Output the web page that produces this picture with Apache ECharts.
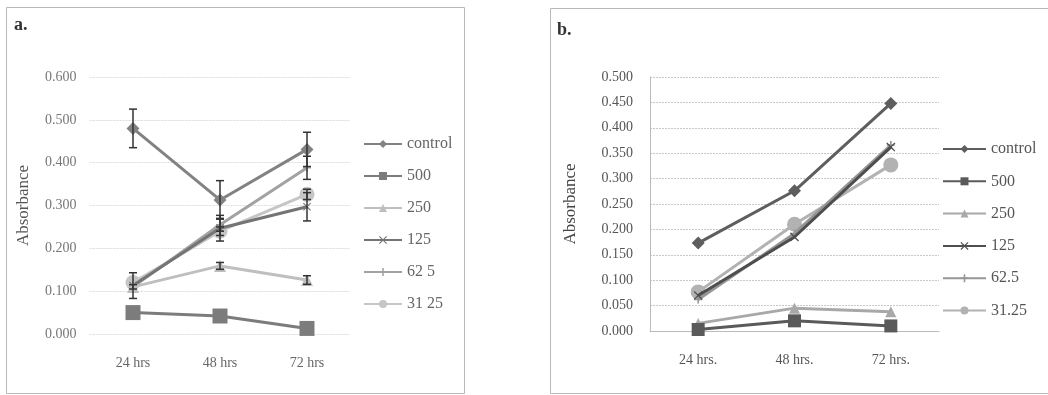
<!DOCTYPE html>
<html>
<head>
<meta charset="utf-8">
<script src="https://cdn.jsdelivr.net/npm/echarts@6/dist/echarts.min.js"></script>
<style>
  body { margin: 0; background: #fff; }
  #chartA { position: absolute; left: 0; top: 0; width: 524px; height: 395px; }
  #chartB { position: absolute; left: 524px; top: 0; width: 524px; height: 395px; }
</style>
</head>
<body>
<div id="chartA"></div>
<div id="chartB"></div>
<script>
// data
var seriesNames = ['control', '500', '250', '125', '62 5', '31 25'];
var seriesNamesB = ['control', '500', '250', '125', '62.5', '31.25'];
var catsA = ['24 hrs', '48 hrs', '72 hrs'];
var catsB = ['24 hrs.', '48 hrs.', '72 hrs.'];

var controlA = [0.480, 0.313, 0.431];
var c500A = [0.050, 0.042, 0.013];
var c250A = [0.110, 0.159, 0.126];
var c125A = [0.113, 0.247, 0.297];
var c62A = [0.110, 0.255, 0.388];
var c31A = [0.120, 0.240, 0.326];

var errControlA = [0.045, 0.045, 0.040];
var err500A = [0, 0, 0];
var err250A = [0.005, 0.008, 0.010];
var err125A = [0.030, 0.030, 0.033];
var err62A = [0, 0.015, 0.027];
var err31A = [0, 0.010, 0.012];

var controlB = [0.173, 0.276, 0.448];
var c500B = [0.003, 0.020, 0.010];
var c250B = [0.015, 0.045, 0.038];
var c125B = [0.070, 0.185, 0.362];
var c62B = [0.062, 0.192, 0.366];
var c31B = [0.077, 0.210, 0.327];

var xPath = 'path://M0,1L1,0L5,4L9,0L10,1L6,5L10,9L9,10L5,6L1,10L0,9L4,5Z';
var plusPath = 'path://M4,0H6V4H10V6H6V10H4V6H0V4H4Z';
var symbols = ['diamond', 'rect', 'triangle', xPath, plusPath, 'circle'];
var symSizesA = [13, 15, 12, 8, 8, 15];
var symSizesB = [13, 13, 11, 9, 8, 15];
var colorsA = ['#828282', '#7c7c7c', '#bfbfbf', '#747474', '#a2a2a2', '#c6c6c6'];
var colorsB = ['#5e5e5e', '#5a5a5a', '#a8a8a8', '#4e4e4e', '#969696', '#b2b2b2'];

var serif = '"Liberation Serif", "DejaVu Serif", serif';

function lineSeries(names, values, colors, sizes) {
  return values.map(function (v, i) {
    return {
      name: names[i],
      type: 'line',
      data: v,
      symbol: symbols[i],
      symbolSize: sizes[i],
      showAllSymbol: true,
      lineStyle: { color: colors[i], width: 3 },
      itemStyle: { color: colors[i] },
      z: 3 + (values.length - i) * 0.01
    };
  });
}

function errorSeries(values, errs) {
  var data = [];
  values.forEach(function (v, i) {
    v.forEach(function (y, j) {
      if (errs[i][j] > 0) data.push([j, y - errs[i][j], y + errs[i][j]]);
    });
  });
  return {
    type: 'custom',
    silent: true,
    z: 5,
    renderItem: function (params, api) {
      var lo = api.coord([api.value(0), api.value(1)]);
      var hi = api.coord([api.value(0), api.value(2)]);
      var w = 4;
      var st = { stroke: '#333', lineWidth: 1.5 };
      return {
        type: 'group',
        children: [
          { type: 'line', shape: { x1: lo[0], y1: lo[1], x2: hi[0], y2: hi[1] }, style: st },
          { type: 'line', shape: { x1: lo[0] - w, y1: lo[1], x2: lo[0] + w, y2: lo[1] }, style: st },
          { type: 'line', shape: { x1: hi[0] - w, y1: hi[1], x2: hi[0] + w, y2: hi[1] }, style: st }
        ]
      };
    },
    data: data
  };
}

// panel a
var chartA = echarts.init(document.getElementById('chartA'));
chartA.setOption({
  animation: false,
  graphic: [
    { type: 'rect', shape: { x: 6.5, y: 7.5, width: 458, height: 386 },
      style: { fill: 'none', stroke: '#b8b8b8', lineWidth: 1 }, z: -1 },
    { type: 'text', left: 14, top: 16,
      style: { text: 'a.', font: 'bold 18px ' + serif, fill: '#333' } }
  ],
  grid: { left: 89.5, right: 173.5, top: 77, bottom: 61 },
  legend: {
    orient: 'vertical', left: 358, top: 131,
    itemWidth: 38, itemHeight: 10, itemGap: 16,
    data: seriesNames,
    textStyle: { fontFamily: serif, fontSize: 16, color: '#666' }
  },
  xAxis: {
    type: 'category', data: catsA,
    axisLine: { show: false }, axisTick: { show: false },
    axisLabel: { margin: 22, fontFamily: serif, fontSize: 14, color: '#666' }
  },
  yAxis: {
    type: 'value', min: 0, max: 0.6, interval: 0.1,
    name: 'Absorbance', nameLocation: 'middle', nameGap: 57, nameRotate: 90,
    nameTextStyle: { fontFamily: serif, fontSize: 17, color: '#555' },
    axisLine: { show: false }, axisTick: { show: false },
    splitLine: { lineStyle: { color: '#dcdcdc', type: [2, 1] } },
    axisLabel: { margin: 13, fontFamily: serif, fontSize: 14, color: '#777',
      formatter: function (v) { return v.toFixed(3); } }
  },
  series: lineSeries(seriesNames, [controlA, c500A, c250A, c125A, c62A, c31A], colorsA, symSizesA)
    .concat([errorSeries([controlA, c500A, c250A, c125A, c62A, c31A],
      [errControlA, err500A, err250A, err125A, err62A, err31A])])
});

// panel b
var chartB = echarts.init(document.getElementById('chartB'));
chartB.setOption({
  animation: false,
  graphic: [
    { type: 'rect', shape: { x: 26.5, y: 8.5, width: 520, height: 385 },
      style: { fill: 'none', stroke: '#b8b8b8', lineWidth: 1 }, z: -1 },
    { type: 'text', left: 33, top: 21,
      style: { text: 'b.', font: 'bold 18px ' + serif, fill: '#333' } }
  ],
  grid: { left: 126, right: 109, top: 77, bottom: 64 },
  legend: {
    orient: 'vertical', left: 413, top: 136,
    itemWidth: 43, itemHeight: 10, itemGap: 16.3,
    data: seriesNamesB,
    textStyle: { fontFamily: serif, fontSize: 16, color: '#555' }
  },
  xAxis: {
    type: 'category', data: catsB,
    axisLine: { show: true, lineStyle: { color: '#bbb' } }, axisTick: { show: false },
    axisLabel: { margin: 22, fontFamily: serif, fontSize: 14, color: '#555' }
  },
  yAxis: {
    type: 'value', min: 0, max: 0.5, interval: 0.05,
    name: 'Absorbance', nameLocation: 'middle', nameGap: 71, nameRotate: 90,
    nameTextStyle: { fontFamily: serif, fontSize: 17, color: '#444' },
    axisLine: { show: true, lineStyle: { color: '#bbb' } }, axisTick: { show: false },
    splitLine: { lineStyle: { color: '#c8c8c8', type: [2, 1] } },
    axisLabel: { margin: 17, fontFamily: serif, fontSize: 14, color: '#555',
      formatter: function (v) { return v.toFixed(3); } }
  },
  series: lineSeries(seriesNamesB, [controlB, c500B, c250B, c125B, c62B, c31B], colorsB, symSizesB)
});
</script>
</body>
</html>
